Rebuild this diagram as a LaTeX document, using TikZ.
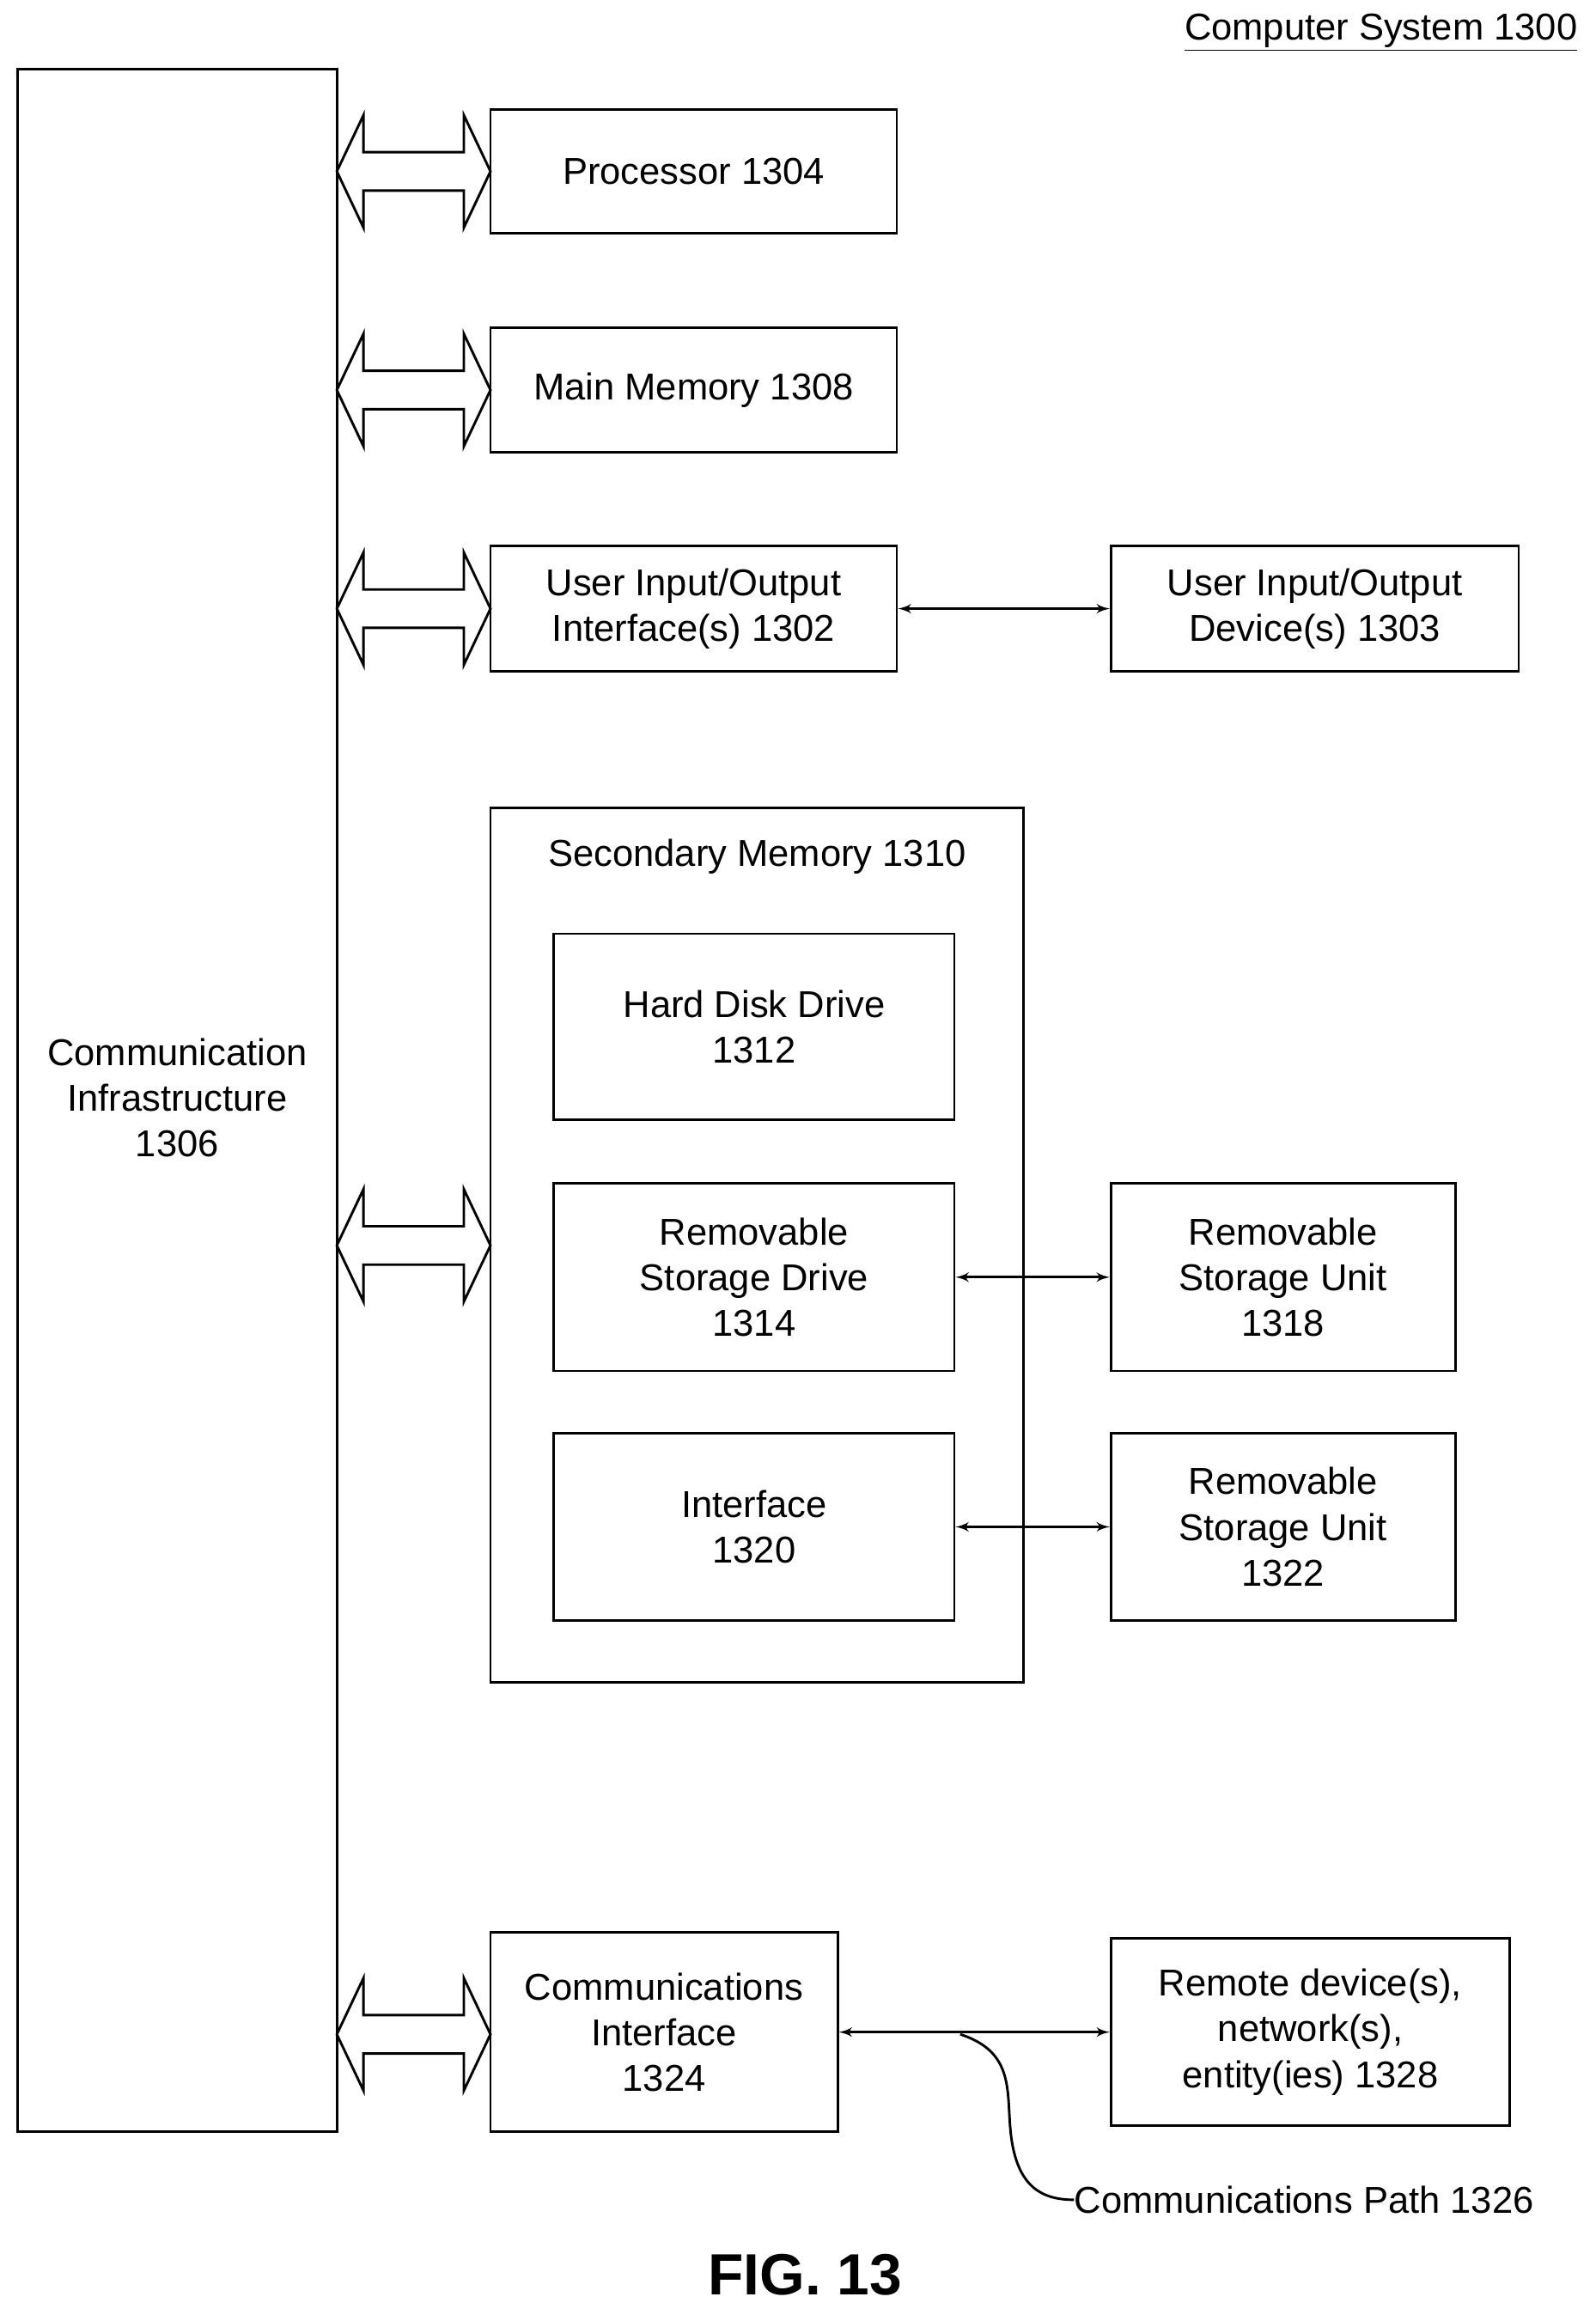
\documentclass[tikz,border=0pt]{standalone}
\usepackage{fontspec}
\setmainfont{Liberation Sans}
\usetikzlibrary{shapes,arrows,positioning}
\begin{document}
\begin{tikzpicture}[x=0.025cm, y=-0.025cm, auto]
	\tikzstyle{block} = [rectangle, draw, line width=1.2pt, align=center, inner sep=0pt,
	font=\fontsize{18}{22}\selectfont]
	\tikzstyle{line} = [draw, latex'-latex', line width=1.2pt]
	\tikzstyle{bus} = [draw, line width=1.2pt, fill=white]
	\useasboundingbox (0,0) rectangle (1080,1567);
	% Place nodes
	\node [block, minimum width=216*0.025cm, minimum height=1396*0.025cm] (ci) at (120,745) {};
	\node [font=\fontsize{18}{22}\selectfont, align=center] at (120,743) {Communication\\Infrastructure\\1306};
	\node [block, minimum width=275*0.025cm, minimum height=84*0.025cm] (proc) at (469.5,116) {Processor 1304};
	\node [block, minimum width=275*0.025cm, minimum height=84*0.025cm] (mem) at (469.5,264) {Main Memory 1308};
	\node [block, minimum width=275*0.025cm, minimum height=85*0.025cm] (uioi) at (469.5,412) {User Input/Output\\Interface(s) 1302};
	\node [block, minimum width=276*0.025cm, minimum height=85*0.025cm] (uiod) at (890,412) {User Input/Output\\Device(s) 1303};
	\node [block, minimum width=361*0.025cm, minimum height=592*0.025cm] (sec) at (512.5,843) {};
	\node [font=\fontsize{18}{22}\selectfont] (sect) at (512.5,580) {Secondary Memory 1310};
	\node [block, minimum width=271*0.025cm, minimum height=126*0.025cm] (hdd) at (510.5,695) {Hard Disk Drive\\1312};
	\node [block, minimum width=271*0.025cm, minimum height=127*0.025cm] (rsd) at (510.5,864.5) {Removable\\Storage Drive\\1314};
	\node [block, minimum width=233*0.025cm, minimum height=127*0.025cm] (rsu1) at (868.5,864.5) {Removable\\Storage Unit\\1318};
	\node [block, minimum width=271*0.025cm, minimum height=127*0.025cm] (intf) at (510.5,1033.5) {Interface\\1320};
	\node [block, minimum width=233*0.025cm, minimum height=127*0.025cm] (rsu2) at (868.5,1033.5) {Removable\\Storage Unit\\1322};
	\node [block, minimum width=235*0.025cm, minimum height=135*0.025cm] (cif) at (449.5,1375.5) {Communications\\Interface\\1324};
	\node [block, minimum width=270*0.025cm, minimum height=127*0.025cm] (rem) at (887,1375.5) {Remote device(s),\\network(s),\\entity(ies) 1328};
	\node [font=\fontsize{18}{22}\selectfont, anchor=west, inner sep=0pt] (path) at (727,1489) {Communications Path 1326};
	\node [font=\fontsize{18}{22}\selectfont, anchor=east, inner sep=0pt] (title) at (1068,22) {\underline{Computer System 1300}};
	\node [font=\fontsize{28}{32}\selectfont\bfseries] (fig) at (545,1540) {FIG. 13};
	% Draw bus arrows
	\foreach \y in {116,264,412,843,1377}
		\path [bus] (228,\y) -- (246,\y-38) -- (246,\y-13) -- (314,\y-13) -- (314,\y-38)
		-- (332,\y) -- (314,\y+38) -- (314,\y+13) -- (246,\y+13) -- (246,\y+38) -- cycle;
	% Draw edges
	\path [line] (uioi) -- (uiod);
	\path [line] (rsd) -- (rsu1);
	\path [line] (intf) -- (rsu2);
	\path [line] (cif.east |- rem) -- (rem);
	\coordinate (tap) at (650,1377);
	\draw [line width=1.2pt] (tap) .. controls (690,1390) and (680,1420) .. (685,1450)
		.. controls (690,1480) and (705,1489) .. (path.west);
\end{tikzpicture}
\end{document}
